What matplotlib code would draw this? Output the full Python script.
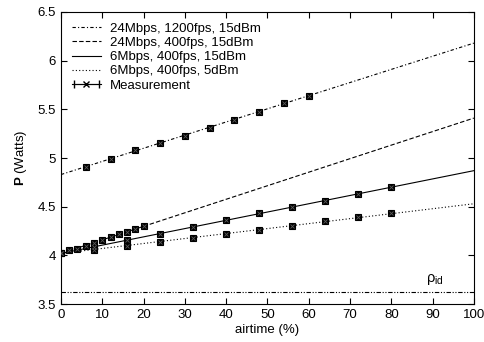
import numpy as np
import matplotlib.pyplot as plt
from matplotlib.container import ErrorbarContainer
from matplotlib.legend_handler import HandlerErrorbar

plt.rcParams['font.family'] = ['Liberation Sans', 'DejaVu Sans']
plt.rcParams['mathtext.fontset'] = 'custom'
plt.rcParams['mathtext.rm'] = 'Liberation Sans'
plt.rcParams['mathtext.bf'] = 'Liberation Sans:bold'

# model lines (airtime endpoints, power at endpoints)
fit_x = [0, 100]
fit_24m_1200 = [4.83, 6.18]
fit_24m_400 = [4.02, 5.41]
fit_6m_400_15 = [4.02, 4.87]
fit_6m_400_5 = [4.02, 4.53]
rho_id = 3.62

labels = ["24Mbps, 1200fps, 15dBm", "24Mbps, 400fps, 15dBm",
          "6Mbps, 400fps, 15dBm", "6Mbps, 400fps, 5dBm"]

# measurements
m1_x = [6, 12, 18, 24, 30, 36, 42, 48, 54, 60]
m1_y = [4.91, 4.99, 5.08, 5.15, 5.23, 5.31, 5.39, 5.47, 5.56, 5.64]
m2_x = [0, 2, 4, 6, 8, 10, 12, 14, 16, 18, 20]
m2_y = [4.02, 4.05, 4.07, 4.10, 4.13, 4.16, 4.19, 4.22, 4.24, 4.27, 4.30]
m3_x = [0, 8, 16, 24, 32, 40, 48, 56, 64, 72, 80]
m3_y = [4.02, 4.09, 4.16, 4.22, 4.29, 4.36, 4.43, 4.50, 4.56, 4.63, 4.70]
m4_x = [8, 16, 24, 32, 40, 48, 56, 64, 72, 80]
m4_y = [4.06, 4.10, 4.14, 4.18, 4.22, 4.26, 4.30, 4.35, 4.39, 4.43]
err = 0.02

fs = 9.5
fig = plt.figure(figsize=(4.84, 3.42), dpi=100)
ax = fig.add_axes([0.126, 0.111, 0.853, 0.854])

styles = [(0, (3, 2, 1, 2)), (0, (4, 2)), '-', (0, (1, 2))]
fits = [fit_24m_1200, fit_24m_400, fit_6m_400_15, fit_6m_400_5]
for f, ls, lab in zip(fits, styles, labels):
    ax.plot(fit_x, f, color='k', lw=0.8, linestyle=ls, label=lab)

for mx, my in [(m1_x, m1_y), (m2_x, m2_y), (m3_x, m3_y), (m4_x, m4_y)]:
    ax.errorbar(mx, my, yerr=err, fmt='s', color='k', ms=4, mew=0.8,
                capsize=1.5, elinewidth=0.8, zorder=3)
    ax.plot(mx, my, 'x', color='0.35', ms=3, mew=0.6, zorder=4)

# legend proxy for measurement
ax.errorbar([np.nan], [np.nan], xerr=1, fmt='-x', color='k', lw=0.8,
            ms=4, mew=1, capsize=3, label='Measurement')

ax.plot(fit_x, [rho_id, rho_id], color='k', lw=0.8,
        linestyle=(0, (4, 1.5, 1, 1.5, 1, 1.5)))
ax.text(90.5, 3.68, r'ρ$_{\mathrm{id}}$', fontsize=fs + 1, ha='center', va='bottom')

ax.set_xlim(0, 100)
ax.set_ylim(3.5, 6.5)
ax.set_xticks(np.arange(0, 101, 10))
ax.set_yticks(np.arange(3.5, 6.51, 0.5))
ax.set_yticklabels(['3.5', '4', '4.5', '5', '5.5', '6', '6.5'])
ax.tick_params(direction='in', top=True, right=True, labelsize=fs, length=4)
ax.set_xlabel('airtime (%)', fontsize=fs, labelpad=2)
ax.set_ylabel(r'$\mathbf{P}$ (Watts)', fontsize=fs, labelpad=6)

ax.legend(loc='upper left', frameon=False, fontsize=fs, handlelength=2.2,
          labelspacing=0.15, borderaxespad=0.3, borderpad=0.5,
          handletextpad=0.7,
          handler_map={ErrorbarContainer: HandlerErrorbar(xerr_size=0.95)})

fig.savefig('out.png', dpi=100)
